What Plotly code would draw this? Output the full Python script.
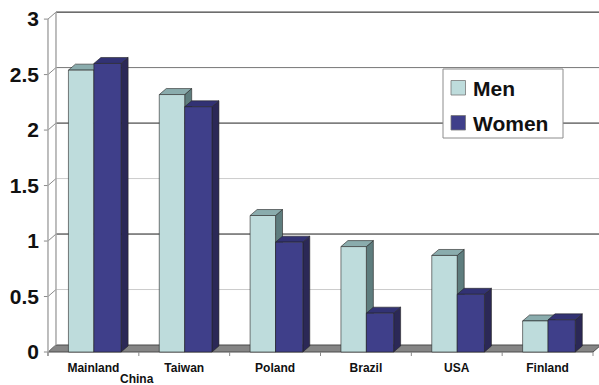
import plotly.graph_objects as go

# ---------------- data ----------------
categories = ["Mainland China", "Taiwan", "Poland", "Brazil", "USA", "Finland"]
men = [2.54, 2.32, 1.23, 0.95, 0.87, 0.28]
women = [2.60, 2.21, 0.99, 0.35, 0.52, 0.29]
series_names = ["Men", "Women"]
y_ticks = [0, 0.5, 1, 1.5, 2, 2.5, 3]
y_tick_labels = ["0", "0.5", "1", "1.5", "2", "2.5", "3"]

# ---------------- layout constants ----------------
W, H = 599, 385
ML, MR, MT, MB = 40, 0, 8, 29
X_RANGE = [-0.588, 5.566]
Y_RANGE = [-0.036, 3.1]
PW = W - ML - MR
PH = H - MT - MB

WALL_DX, WALL_DY = 0.088, 0.063   # depth of walls / floor
BAR_DX, BAR_DY = 0.077, 0.054     # depth of columns
MEN_SPAN = (-0.275, 0.005)
WOMEN_SPAN = (0.005, 0.305)
TICK_DOWN = 0.036

FONT = "Liberation Sans, Arial, sans-serif"

MEN_COLORS = dict(front="#BEDCDC", top="#8AACAD", side="#5E7D7E")
WOMEN_COLORS = dict(front="#3F3F8A", top="#323274", side="#2B2856")
EDGE = "rgba(35,35,35,0.85)"

grid_colors = {0.5: "#cccccc", 1: "#1a1a1a", 1.5: "#cccccc", 2: "#222222", 2.5: "#777777", 3: "#111111"}


def px_to_paper(px, py):
    return (px - ML) / PW, (H - MB - py) / PH


fig = go.Figure()


def poly_trace(polys, fill, line_color=EDGE, width=0.7):
    xs, ys = [], []
    for p in polys:
        for (x, y) in p:
            xs.append(x)
            ys.append(y)
        xs.append(p[0][0])
        ys.append(p[0][1])
        xs.append(None)
        ys.append(None)
    fig.add_trace(go.Scatter(x=xs, y=ys, mode="lines", fill="toself", fillcolor=fill,
                             line=dict(color=line_color, width=width), hoverinfo="skip",
                             showlegend=False))


def line_trace(xs, ys, color, width=1.0):
    fig.add_trace(go.Scatter(x=xs, y=ys, mode="lines", line=dict(color=color, width=width),
                             hoverinfo="skip", showlegend=False))


n = len(categories)
x_left = -0.5
x_right = n - 0.5

# floor
poly_trace([[(x_left, 0), (x_right, 0), (x_right + WALL_DX, WALL_DY), (x_left + WALL_DX, WALL_DY)]],
           "#858585", "#4a4a4a", 1.0)

# back-wall gridlines + side-wall connectors
for t in y_ticks:
    if t > 0:
        line_trace([x_left + WALL_DX, X_RANGE[1]], [t + WALL_DY, t + WALL_DY], grid_colors[t], 1.0)
    line_trace([x_left, x_left + WALL_DX], [t, t + WALL_DY], "#8a8a8a", 1.0)
    # outside tick mark
    line_trace([x_left - 0.045, x_left], [t, t], "#8a8a8a", 1.0)

# vertical wall edges
line_trace([x_left, x_left], [-TICK_DOWN, y_ticks[-1]], "#a8a8a8", 1.5)
line_trace([x_left + WALL_DX, x_left + WALL_DX], [WALL_DY, y_ticks[-1] + WALL_DY], "#a8a8a8", 1.5)

# category boundary ticks
for i in range(n + 1):
    line_trace([x_left + i, x_left + i], [0, -TICK_DOWN], "#8a8a8a", 1.0)


def faces(x0, x1, v):
    front = [(x0, 0), (x1, 0), (x1, v), (x0, v)]
    top = [(x0, v), (x1, v), (x1 + BAR_DX, v + BAR_DY), (x0 + BAR_DX, v + BAR_DY)]
    side = [(x1, 0), (x1 + BAR_DX, BAR_DY), (x1 + BAR_DX, v + BAR_DY), (x1, v)]
    return front, top, side


for vals, span, cols in [(men, MEN_SPAN, MEN_COLORS), (women, WOMEN_SPAN, WOMEN_COLORS)]:
    fr, tp, sd = [], [], []
    for i, v in enumerate(vals):
        f, t_, s = faces(i + span[0], i + span[1], v)
        fr.append(f)
        tp.append(t_)
        sd.append(s)
    poly_trace(sd, cols["side"])
    poly_trace(tp, cols["top"])
    poly_trace(fr, cols["front"])

# ---------------- axes ----------------
tick_main = [c.split(" ", 1)[0] for c in categories]
fig.update_xaxes(range=X_RANGE, tickvals=list(range(n)), ticktext=tick_main,
                 showgrid=False, zeroline=False, showline=False, ticks="",
                 ticklabelstandoff=3,
                 tickfont=dict(family=FONT, size=12, color="#111", weight="bold"),
                 fixedrange=True)
fig.update_yaxes(range=Y_RANGE, tickvals=y_ticks, ticktext=y_tick_labels,
                 showgrid=False, zeroline=False, showline=False, ticks="",
                 tickfont=dict(family=FONT, size=21, color="#111", weight="bold"),
                 fixedrange=True)

annotations = []
# second line of the first category label
second = categories[0].split(" ", 1)[1]
cx, cy = px_to_paper(136.7, 378.5)
annotations.append(dict(text=second, x=cx, y=cy, xref="paper", yref="paper",
                        xanchor="center", yanchor="middle", showarrow=False, borderpad=0,
                        font=dict(family=FONT, size=12, color="#111", weight="bold")))

# ---------------- manual legend ----------------
shapes = []
bx0, by0 = px_to_paper(443, 69)
bx1, by1 = px_to_paper(563, 138)
shapes.append(dict(type="rect", xref="paper", yref="paper", x0=bx0, y0=by1, x1=bx1, y1=by0,
                   fillcolor="white", line=dict(color="#8c8c8c", width=1), layer="above"))
legend_rows = [(series_names[0], MEN_COLORS["front"], 88), (series_names[1], WOMEN_COLORS["front"], 123)]
for name, col, yc in legend_rows:
    sx0, sy0 = px_to_paper(451, yc - 7.5)
    sx1, sy1 = px_to_paper(465.5, yc + 7)
    shapes.append(dict(type="rect", xref="paper", yref="paper", x0=sx0, y0=sy1, x1=sx1, y1=sy0,
                       fillcolor=col, line=dict(color="#777", width=0.8), layer="above"))
    tx, ty = px_to_paper(471, yc)
    annotations.append(dict(text=name, x=tx, y=ty, xref="paper", yref="paper",
                            xanchor="left", yanchor="middle", showarrow=False,
                            font=dict(family=FONT, size=21, color="#111", weight="bold")))

fig.update_layout(width=W, height=H, margin=dict(l=ML, r=MR, t=MT, b=MB),
                  plot_bgcolor="white", paper_bgcolor="white", showlegend=False,
                  shapes=shapes, annotations=annotations)

fig.write_html("out.html", config={"displayModeBar": False})
